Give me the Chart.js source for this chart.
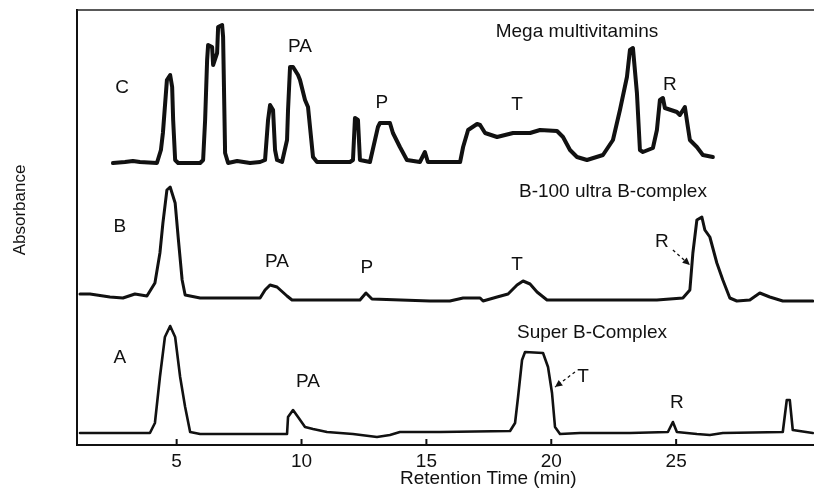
<!DOCTYPE html>
<html>
<head>
<meta charset="utf-8">
<script src="https://cdn.jsdelivr.net/npm/chart.js@4"></script>
<style>
html,body{margin:0;padding:0;background:#fff;}
#wrap{width:814px;height:488px;position:relative;}
</style>
</head>
<body>
<div id="wrap"><canvas id="c" width="814" height="488"></canvas></div>
<script>
// Retention time (min) and absorbance (arbitrary, stacked offsets)
const timeC = [2.45,2.93,3.25,3.53,4.21,4.37,4.45,4.61,4.74,4.82,4.86,4.94,5.06,5.94,6.06,6.14,6.22,6.26,6.42,6.46,6.62,6.66,6.82,6.86,6.94,7.06,7.42,7.94,8.34,8.54,8.66,8.74,8.86,8.94,9.02,9.22,9.42,9.46,9.54,9.66,9.86,9.94,10.14,10.26,10.46,10.62,11.94,12.06,12.14,12.26,12.34,12.74,13.06,13.14,13.54,13.66,13.94,14.22,14.74,14.94,15.06,16.35,16.47,16.67,17.03,17.15,17.35,17.83,18.47,19.15,19.55,20.23,20.47,20.75,21.03,21.43,22.07,22.47,22.75,23.03,23.15,23.27,23.43,23.55,23.67,24.07,24.23,24.35,24.47,24.55,25.03,25.15,25.35,25.47,25.55,25.83,26.07,26.47];
const absC  = [282,283,284,283,282,295,312,365,370,358,325,285,282,282,285,325,385,400,398,380,392,418,420,408,292,282,284,282,283,285,325,340,335,295,285,283,305,335,378,378,370,365,345,338,288,283,283,285,327,325,285,283,318,322,322,312,298,285,283,293,283,283,298,315,321,320,312,308,312,312,315,314,308,295,288,285,290,305,335,368,395,397,352,295,293,297,315,345,347,337,333,330,338,318,305,298,290,288];

const timeB = [1.13,1.53,2.33,2.85,3.33,3.81,4.13,4.33,4.45,4.61,4.74,4.94,5.06,5.22,5.34,5.94,7.54,8.34,8.54,8.74,9.02,9.42,9.62,12.34,12.58,12.82,15.14,15.94,16.47,17.15,17.27,17.83,18.27,18.63,18.87,19.15,19.43,19.83,24.23,24.75,25.27,25.55,25.67,25.83,26.03,26.15,26.35,26.63,26.87,27.15,27.43,27.95,28.35,28.75,29.27,30.47];
const absB  = [151,151,148,147,151,149,162,192,222,255,258,242,208,165,150,147,147,147,155,160,158,149,145,145,152,146,144,144,147,147,144,148,151,160,164,161,153,145,145,146,147,155,192,225,228,215,208,182,165,147,144,145,152,148,144,144];

const timeA = [1.13,3.93,4.13,4.33,4.53,4.74,4.94,5.14,5.34,5.54,5.94,9.42,9.46,9.66,9.86,10.14,10.46,11.02,12.06,13.02,13.54,13.94,15.54,18.35,18.55,18.67,18.83,18.95,19.67,19.87,20.03,20.15,20.35,21.15,23.15,24.67,24.87,25.03,25.83,26.35,26.87,29.27,29.43,29.55,29.67,30.47];
const absA  = [12,12,22,68,108,119,108,68,38,13,11,11,28,35,28,18,16,13,11,8,10,13,13,14,22,48,85,93,92,78,52,18,11,12,12,13,23,13,11,10,12,13,45,45,15,12];

const tickValues = [5,10,15,20,25];

// Annotation texts and their anchor (time, absorbance)
const noteText = ["C","PA","P","T","R","Mega multivitamins","B","PA","P","T","R","B-100 ultra B-complex","A","PA","T","R","Super B-Complex"];
const noteTime = [2.82,9.94,13.22,18.63,24.75,21.03,2.73,9.02,12.62,18.63,24.43,22.47,2.73,10.26,21.27,25.03,21.63];
const noteAbs  = [357,398,342,340,360,413,218,183,177,180,203,253,87,63,68,42,112];
// dashed arrows: [t0,a0,t1,a1]
const arrowsFrom = [[24.87,195],[20.95,73]];
const arrowsTo   = [[25.55,180],[20.15,58]];

const toXY = (ts, as) => ts.map((t,i)=>({x:t,y:as[i]}));
const FONT = "'Liberation Sans', Arial, sans-serif";

const decor = {
  id:'decor',
  afterDraw(chart){
    const ctx = chart.ctx, xs = chart.scales.x, ys = chart.scales.y, ca = chart.chartArea;
    ctx.save();
    // top frame line
    ctx.strokeStyle = '#222'; ctx.lineWidth = 1.5;
    ctx.beginPath(); ctx.moveTo(ca.left, ca.top); ctx.lineTo(ca.right, ca.top); ctx.stroke();
    // inward tick marks
    ctx.lineWidth = 2; ctx.strokeStyle = '#111';
    tickValues.forEach(v=>{
      const px = xs.getPixelForValue(v);
      ctx.beginPath(); ctx.moveTo(px, ca.bottom); ctx.lineTo(px, ca.bottom-6); ctx.stroke();
    });
    // annotations
    ctx.fillStyle = '#111'; ctx.font = '19px ' + FONT; ctx.textAlign = 'center'; ctx.textBaseline = 'middle';
    noteText.forEach((t,i)=>{
      ctx.fillText(t, xs.getPixelForValue(noteTime[i]), ys.getPixelForValue(noteAbs[i]));
    });
    // dashed arrows
    arrowsFrom.forEach((f,i)=>{
      const x0 = xs.getPixelForValue(f[0]), y0 = ys.getPixelForValue(f[1]);
      const x1 = xs.getPixelForValue(arrowsTo[i][0]), y1 = ys.getPixelForValue(arrowsTo[i][1]);
      ctx.setLineDash([3,3]); ctx.lineWidth = 1.3;
      ctx.beginPath(); ctx.moveTo(x0,y0); ctx.lineTo(x1,y1); ctx.stroke();
      ctx.setLineDash([]);
      const ang = Math.atan2(y1-y0, x1-x0), L = 8;
      ctx.beginPath(); ctx.moveTo(x1,y1);
      ctx.lineTo(x1 - L*Math.cos(ang-0.45), y1 - L*Math.sin(ang-0.45));
      ctx.lineTo(x1 - L*Math.cos(ang+0.45), y1 - L*Math.sin(ang+0.45));
      ctx.closePath(); ctx.fill();
    });
    // axis titles
    ctx.font = '19px ' + FONT;
    ctx.fillText('Retention Time (min)', ca.left + (ca.right-ca.left)*0.558, 479);
    ctx.translate(20, 210); ctx.rotate(-Math.PI/2);
    ctx.font = '17px ' + FONT;
    ctx.fillText('Absorbance', 0, 0);
    ctx.restore();
  }
};

const ds = (data, w) => ({data, borderColor:'#111', backgroundColor:'#111', borderWidth:w, pointRadius:0, tension:0, fill:false, borderJoinStyle:'round', borderCapStyle:'round'});

new Chart(document.getElementById('c'), {
  type:'line',
  data:{ datasets:[ ds(toXY(timeC,absC),4), ds(toXY(timeB,absB),3), ds(toXY(timeA,absA),2.6) ] },
  options:{
    responsive:false, animation:false, parsing:true,
    layout:{padding:{top:10,right:0,left:0,bottom:0}},
    plugins:{legend:{display:false}, tooltip:{enabled:false}},
    scales:{
      x:{ type:'linear', min:1.01, max:30.52,
          afterBuildTicks:(s)=>{ s.ticks = tickValues.map(v=>({value:v})); },
          afterFit:(s)=>{ s.height = 43; },
          grid:{display:true, drawOnChartArea:false, drawTicks:false},
          border:{display:true, color:'#111', width:2},
          ticks:{color:'#111', font:{family:FONT, size:19}, padding:5, maxRotation:0}
      },
      y:{ type:'linear', min:0, max:435,
          afterFit:(s)=>{ s.width = 77; },
          grid:{display:false, drawTicks:false},
          border:{display:true, color:'#111', width:2},
          ticks:{display:false}
      }
    }
  },
  plugins:[decor]
});
</script>
</body>
</html>
